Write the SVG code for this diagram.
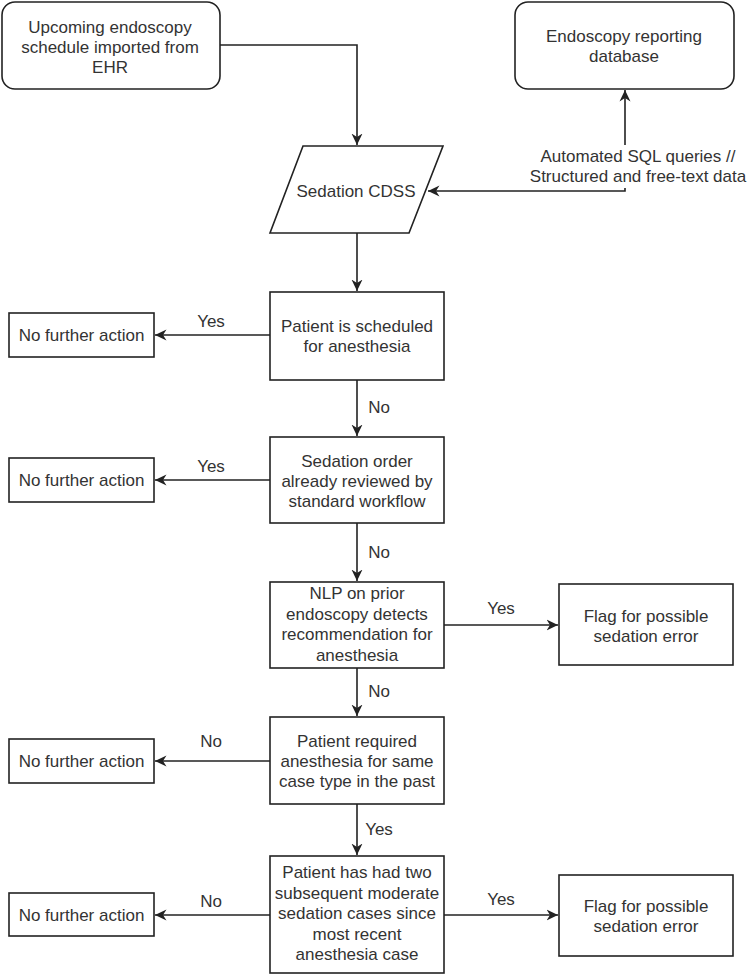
<svg xmlns="http://www.w3.org/2000/svg" width="750" height="975" viewBox="0 0 750 975">
<style>
  .box { fill: #ffffff; stroke: #222222; stroke-width: 1.6; }
  .t { font-family: "Liberation Sans", Arial, sans-serif; font-size: 17px; fill: #333333; text-anchor: middle; }
  .edge { fill: none; stroke: #222222; stroke-width: 1.6; marker-end: url(#arr); }
</style>
<defs>
  <marker id="arr" viewBox="0 0 12 12" markerWidth="12" markerHeight="12" refX="11.5" refY="6" orient="auto-start-reverse" markerUnits="userSpaceOnUse">
    <path d="M0,0.5 L11.5,6 L0,11.5 L3.5,6 Z" fill="#222222"/>
  </marker>
</defs>
<rect width="750" height="975" fill="#ffffff"/>

<g id="connectors">
  <path class="edge" d="M220,45 H357 V145"/>
  <path class="edge" d="M428,191 H625 V90" marker-start="url(#arr)"/>
  <path class="edge" d="M357,233 V291"/>
  <path class="edge" d="M270,335 H155"/>
  <path class="edge" d="M357,380 V436"/>
  <path class="edge" d="M270,480 H155"/>
  <path class="edge" d="M357,523 V581"/>
  <path class="edge" d="M444,625 H558"/>
  <path class="edge" d="M357,668 V716"/>
  <path class="edge" d="M270,761 H155"/>
  <path class="edge" d="M357,804 V855"/>
  <path class="edge" d="M270,915 H155"/>
  <path class="edge" d="M444,915 H558"/>
  <g id="edge-labels">
    <rect x="528" y="145" width="221" height="43" fill="#ffffff"/>
    <text class="t" x="638" y="162">Automated SQL queries //</text>
    <text class="t" x="638" y="182">Structured and free-text data</text>
    <text class="t" x="211" y="327">Yes</text>
    <text class="t" x="379" y="413">No</text>
    <text class="t" x="211" y="472">Yes</text>
    <text class="t" x="379" y="558">No</text>
    <text class="t" x="501" y="614">Yes</text>
    <text class="t" x="379" y="697">No</text>
    <text class="t" x="211" y="747">No</text>
    <text class="t" x="379" y="835">Yes</text>
    <text class="t" x="211" y="907">No</text>
    <text class="t" x="501" y="905">Yes</text>
  </g>
</g>

<g id="n-ehr">
  <rect class="box" x="2" y="2" width="218" height="87" rx="13"/>
  <text class="t" x="110" y="33">Upcoming endoscopy</text>
  <text class="t" x="110" y="53">schedule imported from</text>
  <text class="t" x="110" y="73">EHR</text>
</g>

<g id="n-db">
  <rect class="box" x="515" y="2" width="219" height="87" rx="13"/>
  <text class="t" x="624" y="42">Endoscopy reporting</text>
  <text class="t" x="624" y="62">database</text>
</g>

<g id="n-cdss">
  <polygon class="box" points="303,146 443,146 409,233 270,233"/>
  <text class="t" x="356" y="197">Sedation CDSS</text>
</g>

<g id="n-q1">
  <rect class="box" x="270" y="292" width="174" height="88"/>
  <text class="t" x="357" y="332">Patient is scheduled</text>
  <text class="t" x="357" y="352">for anesthesia</text>
</g>

<g id="n-nfa1">
  <rect class="box" x="9" y="313" width="145" height="44"/>
  <text class="t" x="81.5" y="341">No further action</text>
</g>

<g id="n-q2">
  <rect class="box" x="270" y="437" width="174" height="86"/>
  <text class="t" x="357" y="467">Sedation order</text>
  <text class="t" x="357" y="487">already reviewed by</text>
  <text class="t" x="357" y="507">standard workflow</text>
</g>

<g id="n-nfa2">
  <rect class="box" x="9" y="458" width="145" height="44"/>
  <text class="t" x="81.5" y="486">No further action</text>
</g>

<g id="n-q3">
  <rect class="box" x="270" y="582" width="174" height="86"/>
  <text class="t" x="357" y="599">NLP on prior</text>
  <text class="t" x="357" y="619.5">endoscopy detects</text>
  <text class="t" x="357" y="640">recommendation for</text>
  <text class="t" x="357" y="660.5">anesthesia</text>
</g>

<g id="n-flag1">
  <rect class="box" x="559" y="584" width="174" height="81"/>
  <text class="t" x="646" y="622">Flag for possible</text>
  <text class="t" x="646" y="642">sedation error</text>
</g>

<g id="n-q4">
  <rect class="box" x="270" y="717" width="174" height="87"/>
  <text class="t" x="357" y="747">Patient required</text>
  <text class="t" x="357" y="767">anesthesia for same</text>
  <text class="t" x="357" y="787">case type in the past</text>
</g>

<g id="n-nfa3">
  <rect class="box" x="9" y="739" width="145" height="44"/>
  <text class="t" x="81.5" y="767">No further action</text>
</g>

<g id="n-q5">
  <rect class="box" x="270" y="856" width="174" height="117"/>
  <text class="t" x="357" y="878">Patient has had two</text>
  <text class="t" x="357" y="898.5">subsequent moderate</text>
  <text class="t" x="357" y="919">sedation cases since</text>
  <text class="t" x="357" y="939.5">most recent</text>
  <text class="t" x="357" y="960">anesthesia case</text>
</g>

<g id="n-nfa4">
  <rect class="box" x="9" y="893" width="145" height="43"/>
  <text class="t" x="81.5" y="921">No further action</text>
</g>

<g id="n-flag2">
  <rect class="box" x="559" y="875" width="174" height="81"/>
  <text class="t" x="646" y="912">Flag for possible</text>
  <text class="t" x="646" y="932">sedation error</text>
</g>
</svg>
